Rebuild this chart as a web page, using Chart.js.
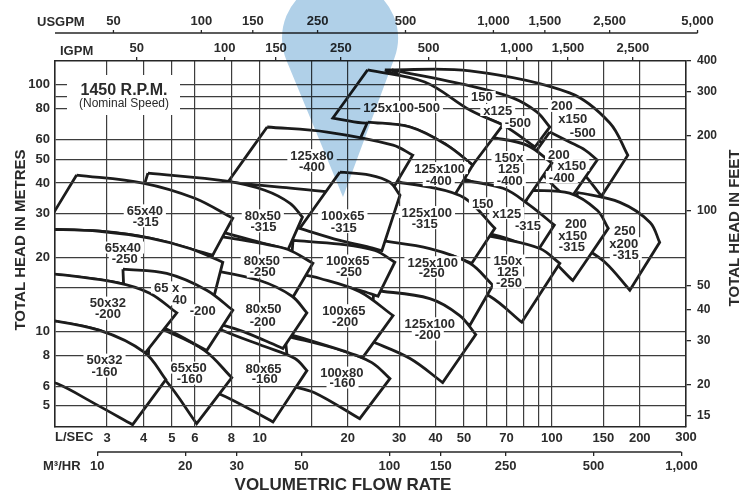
<!DOCTYPE html>
<html>
<head>
<meta charset="utf-8">
<title>Pump selection chart</title>
<script src="https://cdn.jsdelivr.net/npm/chart.js@4.4.1/dist/chart.umd.min.js"></script>
<style>
  html, body { margin: 0; padding: 0; background: #ffffff; }
  canvas { display: block; }
</style>
</head>
<body>
<canvas id="pumpChart" width="742" height="493"></canvas>
<script>
// Flow axis (litres per second) and head axis (metres)
const flowMin = 1.99;
const flowMax = 288;          // right frame edge, printed as 300 on the sheet
const lsecGrid = [3, 4, 5, 6, 8, 10, 15, 20, 30, 40, 50, 60, 70, 80, 90, 100, 150, 200];
const lsecLabels = [3, 4, 5, 6, 8, 10, 20, 30, 40, 50, 70, 100, 150, 200];
const lsecEndLabel = '300';
const m3hrLabels = [10, 20, 30, 50, 100, 150, 250, 500, 1000];
const igpmLabels = [50, 100, 150, 250, 500, 1000, 1500, 2500];
const usgpmLabels = [50, 100, 150, 250, 500, 1000, 1500, 2500, 5000];
const metreGrid = [5, 6, 8, 10, 15, 20, 30, 40, 50, 60, 80, 90, 100];
const metreLabels = [5, 6, 8, 10, 20, 30, 40, 50, 60, 80, 100];
const feetLabels = [15, 20, 30, 40, 50, 100, 200, 300, 400];

const IGPM_PER_LS = 13.198;
const USGPM_PER_LS = 15.85;
const M3H_PER_LS = 3.6;

// Pump envelopes: top = largest impeller curve, bot = smallest, both [L/s, m] from left to right
const row500 = [
  { pump: '200x150-500', top: [[26.8, 115], [52.4, 114], [115, 92.8], [158, 70.1], [182, 51.9]], bot: [[66.4, 72.1], [102, 54.4], [125, 45.1], [148, 35.4]] },
  { pump: '150x125-500', top: [[28.3, 115], [52.4, 99.1], [73.5, 88.6], [88.8, 77.7], [98.4, 67.5]], bot: [[38.2, 88.6], [52.4, 77.7], [68.0, 68.8], [87.5, 56.0]] },
  { pump: '125x100-500', top: [[23.4, 115], [36.7, 102.8], [52.4, 79.1], [68.0, 68.8]], bot: [[17.8, 73.4], [22.4, 70.1], [32.7, 67.5], [43.7, 57.0], [53.6, 47.3]] }
];
const row400 = [
  { pump: '200x150-400', top: [[98.4, 64.4], [115, 58.7], [130, 54.4], [143, 49.6]], bot: [[84.1, 49.6], [101, 39.2], [115, 34.1]] },
  { pump: '150x125-400', top: [[61.3, 61.5], [82.1, 57.0], [100, 48.2]], bot: [[49.2, 41.9], [66.4, 36.7], [80.8, 33.4]] },
  { pump: '125x100-400', top: [[23.4, 70.7], [32.7, 67.5], [43.7, 57.0], [53.6, 47.3]], bot: [[21.2, 54.4], [30.2, 40.3], [44.7, 33.1]] },
  { pump: '125x80-400', top: [[10.6, 67.5], [17.0, 64.4], [28.6, 57.0], [33.4, 51.9]], bot: [[7.77, 40.3], [11.7, 38.5], [17.4, 36.7], [26.8, 33.4]] }
];
const row315 = [
  { pump: '250x200-315', top: [[122, 36.7], [171, 33.4], [217, 27.7], [234, 23.0]], bot: [[125, 22.4], [152, 19.1], [185, 14.7]] },
  { pump: '200x150-315', top: [[84.1, 37.4], [115, 36.4], [143, 31.0], [156, 26.2]], bot: [[71.8, 22.4], [94.6, 20.4], [118, 16.1]] },
  { pump: '150x125-315', top: [[44.7, 41.9], [68.0, 38.1], [84.1, 32.5], [102, 27.0]], bot: [[43.0, 27.0], [66.4, 24.3], [89.6, 21.3]] },
  { pump: '125x100-315', top: [[25.8, 41.1], [38.2, 38.5], [50.4, 34.7], [63.8, 26.2]], bot: [[23.8, 22.4], [35.3, 21.3], [44.7, 20.4], [53.2, 18.9]] },
  { pump: '100x65-315', top: [[18.8, 44.3], [23.8, 43.1], [27.9, 40.3], [30.2, 35.7]], bot: [[13.7, 26.2], [18.8, 23.4], [22.9, 22.2], [26.2, 21.3]] },
  { pump: '80x50-315', top: [[4.14, 43.9], [7.71, 40.7], [10.4, 37.4], [12.7, 33.1], [14.0, 29.1]], bot: [[3.88, 34.1], [6.23, 27.0], [10.0, 23.0], [12.5, 21.5]] },
  { pump: '65x40-315', top: [[2.36, 43.1], [3.98, 40.0], [5.99, 34.7], [8.08, 28.8]], bot: [[1.82, 26.0], [2.83, 25.5], [4.20, 23.9], [6.90, 20.4]] }
];
const row250 = [
  { pump: '150x125-250', top: [[44.7, 26.2], [66.4, 23.9], [91.0, 21.7], [106.5, 18.9]], bot: [[46.5, 15.8], [61.3, 13.9], [78.9, 10.9]] },
  { pump: '125x100-250', top: [[25.8, 23.4], [38.2, 21.7], [52.4, 18.9], [62.8, 15.4]], bot: [[23.8, 14.7], [35.3, 13.4], [44.7, 11.9], [52.4, 10.6]] },
  { pump: '100x65-250', top: [[13.0, 23.4], [18.8, 22.6], [24.8, 21.3], [29.0, 19.1]], bot: [[12.7, 16.9], [17.4, 15.7], [22.0, 14.7], [25.4, 13.9]] },
  { pump: '80x50-250', top: [[7.30, 24.3], [10.0, 22.8], [12.5, 21.5], [15.2, 18.9]], bot: [[6.48, 16.9], [10.0, 16.0], [12.9, 13.6]] },
  { pump: '65x40-250', top: [[1.82, 26.0], [2.83, 25.5], [4.20, 23.9], [5.76, 21.7], [7.47, 19.1]], bot: [[1.70, 17.4], [3.24, 15.8], [5.32, 13.4], [6.74, 11.9]] }
];
const row200 = [
  { pump: '125x100-200', top: [[24.6, 14.7], [38.2, 13.6], [48.4, 11.6], [54.9, 9.72]], bot: [[23.8, 9.19], [32.7, 7.77], [42.3, 6.21]] },
  { pump: '100x65-200', top: [[12.7, 17.4], [16.1, 16.4], [22.0, 14.5], [28.6, 11.6]], bot: [[12.0, 9.91], [16.1, 8.94], [19.2, 8.37], [22.5, 7.84]] },
  { pump: '80x50-200', top: [[6.48, 18.0], [10.0, 16.1], [12.9, 13.9], [14.5, 11.9]], bot: [[6.23, 11.3], [8.54, 10.1], [10.4, 9.19], [12.0, 8.53]] },
  { pump: '65x40-200', top: [[3.40, 17.9], [4.80, 17.2], [6.58, 14.7], [8.08, 12.2]], bot: [[3.45, 11.9], [4.73, 10.3], [6.58, 8.37]] },
  { pump: '50x32-200', top: [[1.70, 17.5], [3.24, 15.8], [4.20, 14.3], [5.20, 11.9]], bot: [[1.70, 11.3], [2.83, 10.1], [4.04, 8.14]] }
];
const row160 = [
  { pump: '100x80-160', top: [[12.2, 9.63], [19.2, 8.37], [24.2, 7.48], [27.9, 6.44]], bot: [[12.7, 6.03], [15.4, 5.65], [22.0, 4.43]] },
  { pump: '80x65-160', top: [[6.48, 11.1], [7.47, 10.1], [10.4, 8.69], [13.2, 7.77], [14.5, 6.94]], bot: [[6.23, 6.03], [7.89, 5.34], [11.1, 4.30]] },
  { pump: '65x50-160', top: [[4.20, 10.6], [4.73, 10.1], [6.48, 8.37], [8.02, 6.50]], bot: [[4.14, 7.21], [4.77, 6.32], [6.08, 4.23]] },
  { pump: '50x32-160', top: [[1.70, 11.4], [2.83, 10.1], [4.04, 8.21], [4.77, 6.38]], bot: [[1.70, 6.44], [2.02, 6.15], [2.72, 5.10], [3.67, 4.19]] }
];

// Text inside the envelopes: [text, L/s, m]
const pumpLabels = [
  ['125x100-500', 30.6, 81.4],
  ['150', 57.6, 89.4], ['x125', 65.3, 79.1], ['-500', 76.5, 70.7],
  ['200', 108.2, 82.2], ['x150', 118.0, 73.4], ['-500', 127.7, 64.4],
  ['125x80', 15.1, 51.9], ['-400', 15.1, 46.9],
  ['125x100', 41.3, 46.0], ['-400', 41.0, 41.1],
  ['150x', 71.3, 51.0], ['125', 71.3, 46.0], ['-400', 71.8, 41.1],
  ['200', 105.7, 52.4], ['x150', 117.1, 47.3], ['-400', 108.2, 42.3],
  ['65x40', 4.04, 31.0], ['-315', 4.07, 28.0],
  ['80x50', 10.24, 29.6], ['-315', 10.3, 26.7],
  ['100x65', 19.24, 29.6], ['-315', 19.4, 26.5],
  ['125x100', 37.3, 30.5], ['-315', 36.7, 27.5],
  ['150', 58.0, 33.1], ['x125', 70.1, 30.2], ['-315', 82.8, 27.0],
  ['200', 120.8, 27.5], ['x150', 118.0, 24.6], ['-315', 117.1, 22.2],
  ['250', 177.8, 25.7], ['x200', 176.4, 22.8], ['-315', 179.2, 20.6],
  ['65x40', 3.40, 21.9], ['-250', 3.45, 19.8],
  ['80x50', 10.16, 19.4], ['-250', 10.24, 17.5],
  ['100x65', 20.0, 19.4], ['-250', 20.2, 17.5],
  ['125x100', 39.1, 19.1], ['-250', 38.8, 17.4],
  ['150x', 70.7, 19.4], ['125', 70.7, 17.5], ['-250', 71.3, 15.8],
  ['65 x', 4.80, 15.1], ['40', 5.32, 13.5], ['-200', 6.38, 12.2],
  ['50x32', 3.02, 13.1], ['-200', 3.02, 11.8],
  ['80x50', 10.3, 12.4], ['-200', 10.24, 11.0],
  ['100x65', 19.4, 12.2], ['-200', 19.6, 11.0],
  ['125x100', 38.2, 10.8], ['-200', 37.6, 9.72],
  ['50x32', 2.94, 7.69], ['-160', 2.94, 6.88],
  ['65x50', 5.71, 7.14], ['-160', 5.76, 6.44],
  ['80x65', 10.3, 7.07], ['-160', 10.4, 6.44],
  ['100x80', 19.1, 6.81], ['-160', 19.2, 6.21]
];

const inkColour = '#2b2b2b';
const frameColour = '#262626';
const gridColour = '#3d3d3d';
const curveColour = '#1c1c1c';
const pinColour = 'rgb(176, 208, 232)';
const fontFamily = "'Liberation Sans', Arial, Helvetica, sans-serif";
const tickFont = { family: fontFamily, size: 13, weight: 'bold' };

// smaller pumps cover bigger ones; dataset 0 is drawn last
function pumpKey(name) {
  const [a, b, c] = name.split(/[x-]/).map(Number);
  return a * 1e6 + b * 1e3 + c;
}
const envelopes = [...row160, ...row200, ...row250, ...row315, ...row400, ...row500]
  .sort((p, q) => pumpKey(p.pump) - pumpKey(q.pump));

// corners doubled so the spline keeps them sharp and the side edges straight
function outline(env) {
  const t = env.top.map(([x, y]) => ({ x, y }));
  const b = env.bot.map(([x, y]) => ({ x, y })).reverse();
  return [t[0], ...t, t[t.length - 1], b[0], ...b, b[b.length - 1], t[0]];
}

const datasets = envelopes.map(env => ({
  label: env.pump,
  data: outline(env),
  borderColor: curveColour,
  borderWidth: 2.8,
  backgroundColor: '#ffffff',
  fill: 'shape',
  tension: 0.35,
  pointRadius: 0,
  clip: 0
}));

const commaLabel = v => Number(v).toLocaleString('en-US');

const chartDecor = {
  id: 'chartDecor',
  afterDraw(chart) {
    const { ctx, chartArea: area, scales } = chart;
    const x = scales.x, y = scales.y, m3 = scales.xM3;
    ctx.save();
    ctx.textAlign = 'center';
    ctx.textBaseline = 'middle';

    // speed note
    ctx.fillStyle = '#ffffff';
    ctx.fillRect(area.left + 12, 75, 113, 40);
    ctx.fillStyle = inkColour;
    ctx.font = `bold 16px ${fontFamily}`;
    ctx.fillText('1450 R.P.M.', 124, 91);
    ctx.font = `12px ${fontFamily}`;
    ctx.fillText('(Nominal Speed)', 124, 104);

    // envelope names
    ctx.font = `bold 13px ${fontFamily}`;
    const placed = pumpLabels.map(([text, q, h]) => ({
      text, px: x.getPixelForValue(q), py: y.getPixelForValue(h), w: ctx.measureText(text).width
    }));
    ctx.fillStyle = '#ffffff';
    placed.forEach(l => ctx.fillRect(l.px - l.w / 2 - 3, l.py - 6, l.w + 6, 12));
    ctx.fillStyle = inkColour;
    placed.forEach(l => ctx.fillText(l.text, l.px, l.py + 1));

    // end label of the L/SEC scale, at the frame
    ctx.fillText(lsecEndLabel, area.right, 437);

    // USGPM scale above the IGPM one
    const usY = 33;
    ctx.strokeStyle = frameColour;
    ctx.lineWidth = 1.3;
    ctx.beginPath();
    ctx.moveTo(area.left, usY);
    ctx.lineTo(x.getPixelForValue(usgpmLabels[usgpmLabels.length - 1] / USGPM_PER_LS), usY);
    ctx.stroke();
    usgpmLabels.forEach(v => {
      const px = x.getPixelForValue(v / USGPM_PER_LS);
      ctx.beginPath();
      ctx.moveTo(px, usY);
      ctx.lineTo(px, usY - 3);
      ctx.stroke();
      ctx.fillText(commaLabel(v), px, 21);
    });

    // M3/HR scale line
    ctx.beginPath();
    ctx.moveTo(m3.getPixelForValue(m3hrLabels[0]), m3.top);
    ctx.lineTo(m3.getPixelForValue(m3hrLabels[m3hrLabels.length - 1]), m3.top);
    ctx.stroke();

    // unit names
    ctx.textAlign = 'left';
    ctx.fillText('USGPM', 37, 22);
    ctx.fillText('IGPM', 60, 51);
    ctx.fillText('L/SEC', 55, 437);
    ctx.fillText('M\u00B3/HR', 43, 466);

    // titles
    ctx.textAlign = 'center';
    ctx.font = `bold 17px ${fontFamily}`;
    ctx.fillText('VOLUMETRIC FLOW RATE', 343, 485);
    ctx.font = `bold 15px ${fontFamily}`;
    ctx.save();
    ctx.translate(21, 240);
    ctx.rotate(-Math.PI / 2);
    ctx.fillText('TOTAL HEAD IN METRES', 0, 0);
    ctx.restore();
    ctx.save();
    ctx.translate(735, 228);
    ctx.rotate(-Math.PI / 2);
    ctx.fillText('TOTAL HEAD IN FEET', 0, 0);
    ctx.restore();

    // blue pin mark over the sheet
    ctx.globalCompositeOperation = 'multiply';
    ctx.fillStyle = pinColour;
    const cx = 340, cy = 38, r = 58, tipX = 343, tipY = 197;
    const d = Math.hypot(tipX - cx, tipY - cy);
    const th = Math.atan2(tipY - cy, tipX - cx);
    const ph = Math.acos(r / d);
    ctx.beginPath();
    ctx.moveTo(tipX, tipY);
    ctx.arc(cx, cy, r, th + ph, th - ph + 2 * Math.PI);
    ctx.closePath();
    ctx.fill();
    ctx.restore();
  }
};

const ctx = document.getElementById('pumpChart').getContext('2d');
new Chart(ctx, {
  type: 'line',
  data: { datasets },
  plugins: [chartDecor],
  options: {
    responsive: false,
    animation: false,
    devicePixelRatio: 1,
    events: [],
    layout: { autoPadding: false, padding: { top: 33, left: 0, right: 0, bottom: 0 } },
    elements: { point: { radius: 0 }, line: { capBezierPoints: false } },
    plugins: { legend: { display: false }, tooltip: { enabled: false } },
    scales: {
      x: {
        type: 'logarithmic', position: 'bottom', min: flowMin, max: flowMax, weight: 0,
        afterFit: s => { s.height = 25; },
        afterBuildTicks: s => { s.ticks = lsecGrid.map(v => ({ value: v })); },
        grid: { color: gridColour, lineWidth: 1.2, drawTicks: false, z: 1 },
        border: { color: frameColour, width: 1.6, z: 2 },
        ticks: { autoSkip: false, maxRotation: 0, padding: 4, font: tickFont, color: inkColour,
                 callback: v => lsecLabels.includes(v) ? String(v) : '' }
      },
      xM3: {
        type: 'logarithmic', position: 'bottom', min: flowMin * M3H_PER_LS, max: flowMax * M3H_PER_LS, weight: 1,
        afterFit: s => { s.height = 41; },
        afterBuildTicks: s => { s.ticks = m3hrLabels.map(v => ({ value: v })); },
        grid: { drawOnChartArea: false, drawTicks: true, tickLength: 4, color: frameColour, lineWidth: 1.3 },
        border: { display: false },
        ticks: { autoSkip: false, maxRotation: 0, padding: 3, font: tickFont, color: inkColour, callback: commaLabel }
      },
      xIg: {
        type: 'logarithmic', position: 'top', min: flowMin * IGPM_PER_LS, max: flowMax * IGPM_PER_LS,
        afterFit: s => { s.height = 28; },
        afterBuildTicks: s => { s.ticks = igpmLabels.map(v => ({ value: v })); },
        grid: { drawOnChartArea: false, drawTicks: true, tickLength: 4, color: frameColour, lineWidth: 1.3, z: 1 },
        border: { color: frameColour, width: 1.6, z: 2 },
        ticks: { autoSkip: false, maxRotation: 0, padding: 1, font: tickFont, color: inkColour, callback: commaLabel }
      },
      y: {
        type: 'logarithmic', position: 'left', min: 4.1, max: 125,
        afterFit: s => { s.width = 55; },
        afterBuildTicks: s => { s.ticks = metreGrid.map(v => ({ value: v })); },
        grid: { color: gridColour, lineWidth: 1.2, drawTicks: false, z: 1 },
        border: { color: frameColour, width: 1.6, z: 2 },
        ticks: { autoSkip: false, padding: 5, font: tickFont, color: inkColour,
                 callback: v => metreLabels.includes(v) ? String(v) : '' }
      },
      yFt: {
        type: 'logarithmic', position: 'right', min: 13.5, max: 400,
        afterFit: s => { s.width = 56; },
        afterBuildTicks: s => { s.ticks = feetLabels.map(v => ({ value: v })); },
        grid: { drawOnChartArea: false, drawTicks: true, tickLength: 5, color: frameColour, lineWidth: 1.3, z: 1 },
        border: { color: frameColour, width: 1.6, z: 2 },
        ticks: { autoSkip: false, padding: 6, font: { family: fontFamily, size: 12, weight: 'bold' }, color: inkColour,
                 callback: v => String(v) }
      }
    }
  }
});
</script>
</body>
</html>
